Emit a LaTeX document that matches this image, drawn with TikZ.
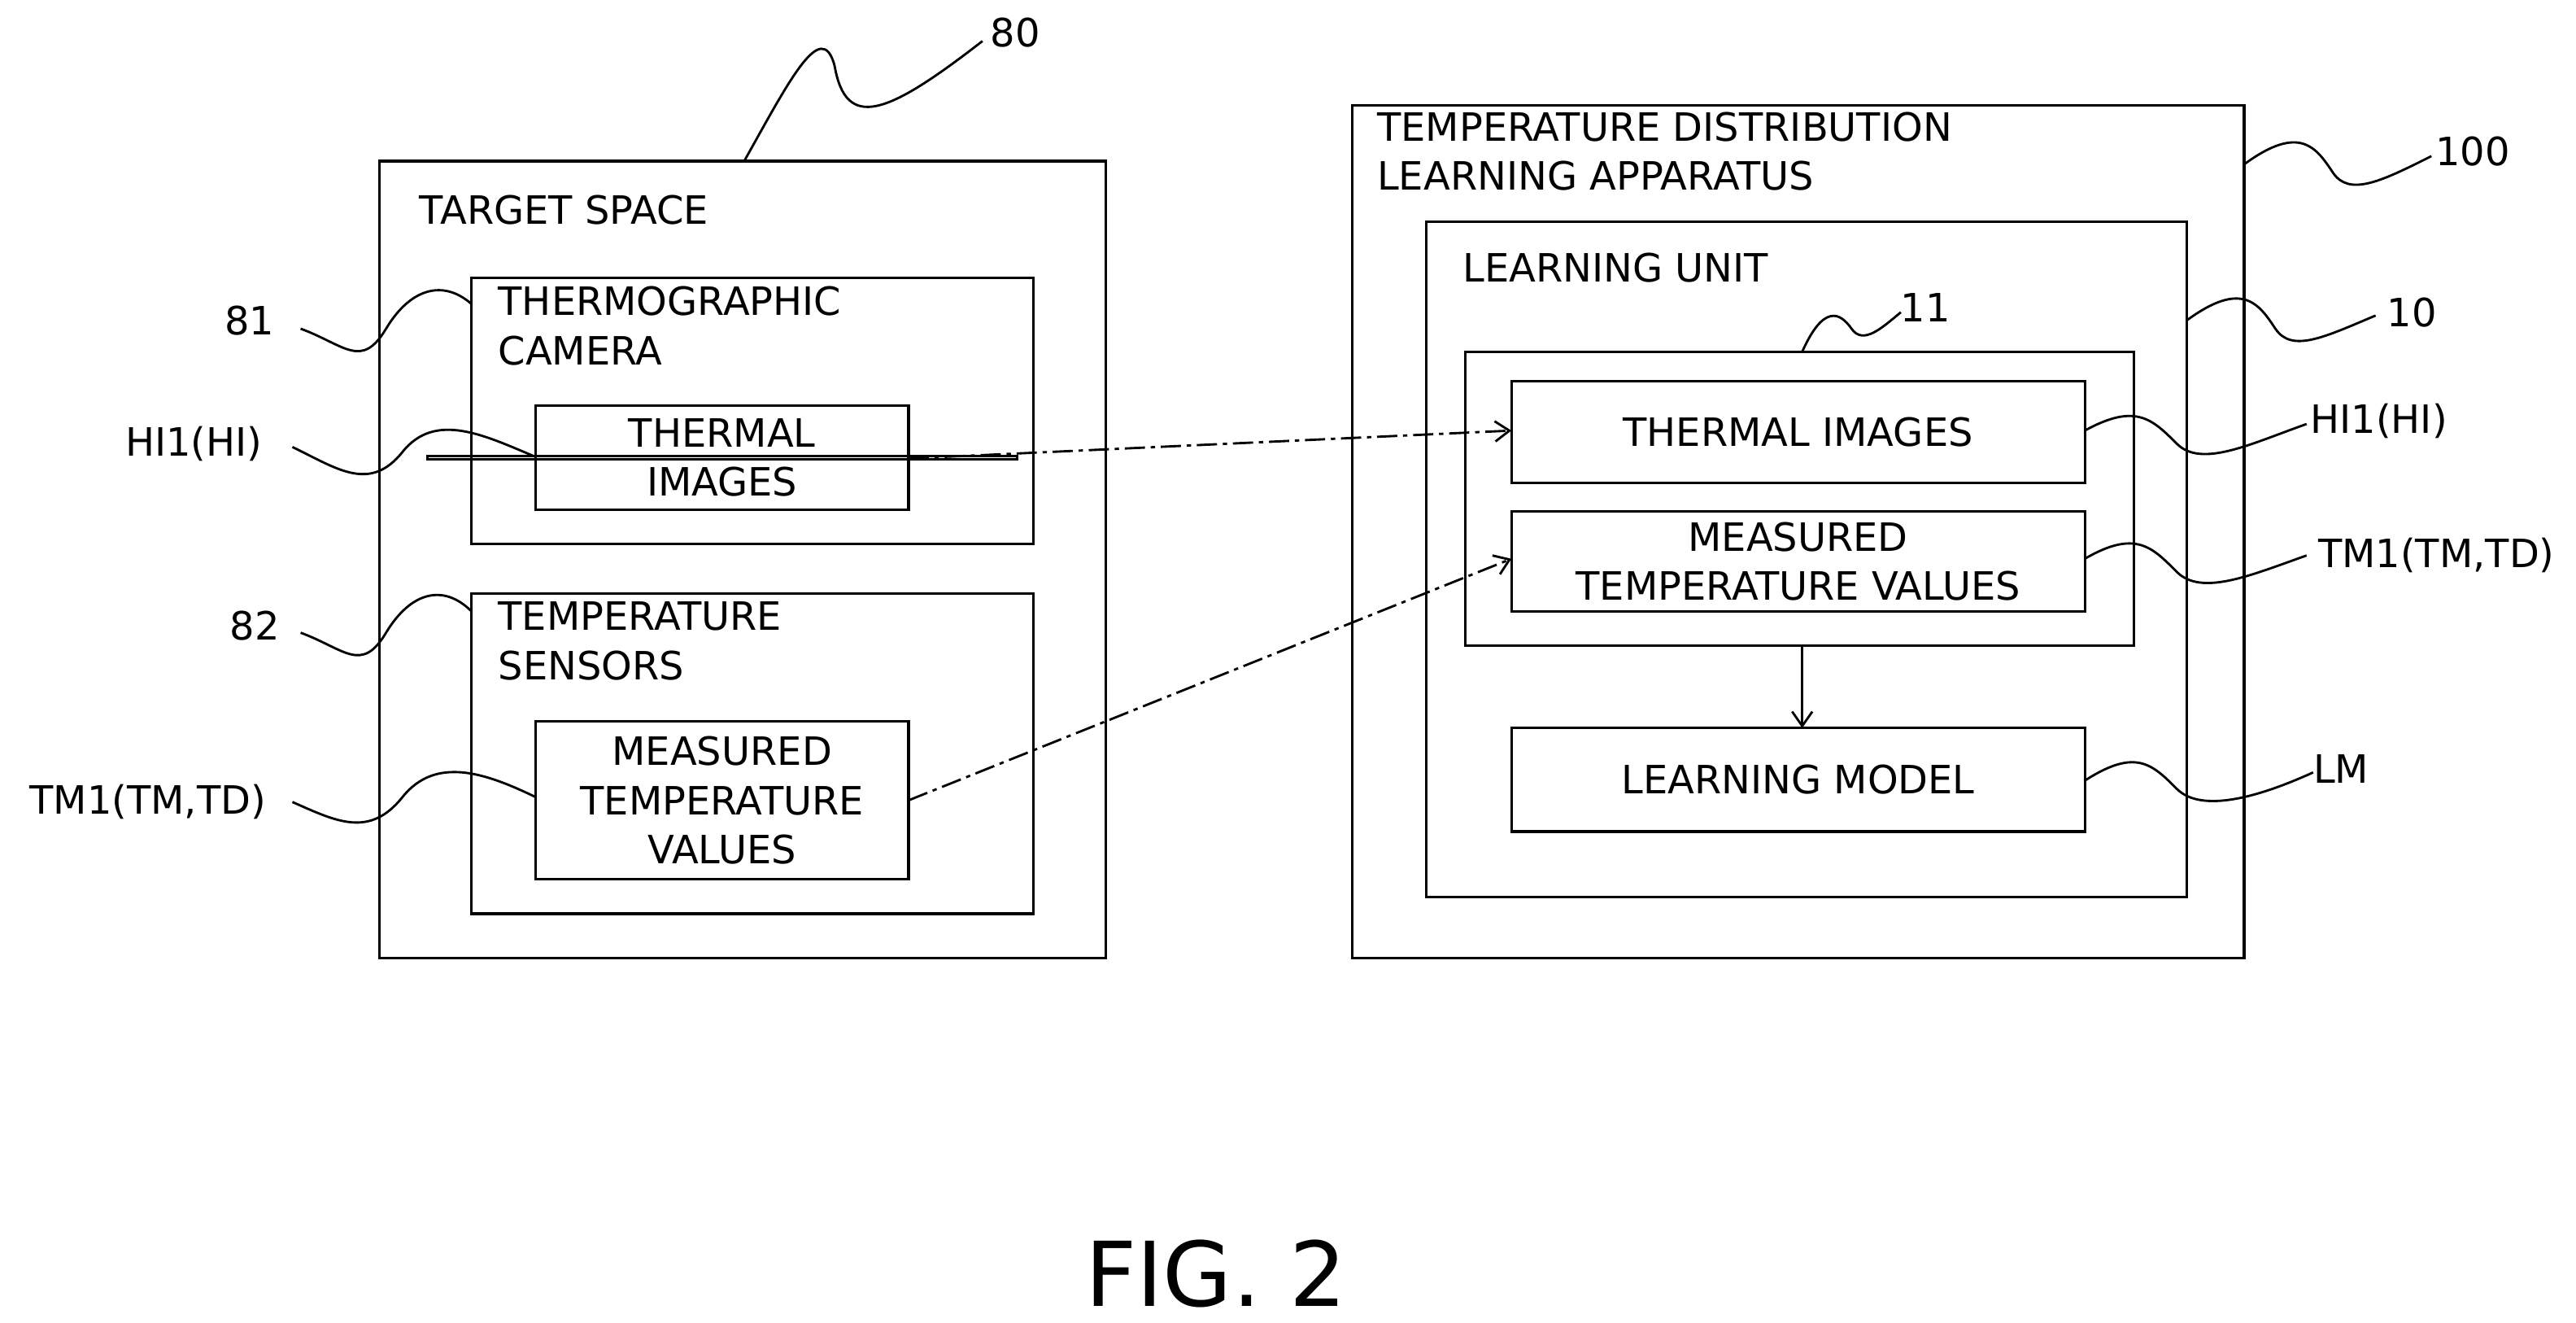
\documentclass[tikz,border=0pt]{standalone}
\usepackage{fontspec}
\setmainfont{DejaVu Sans}
\usetikzlibrary{arrows.meta}
\begin{document}
\begin{tikzpicture}[x=0.02cm,y=-0.02cm,
  box/.style={draw,line width=0.9pt},
  txt/.style={font=\fontsize{13.5}{17}\selectfont,align=center,inner sep=0},
  ttl/.style={font=\fontsize{13.5}{17}\selectfont,align=left,anchor=north west,inner sep=0},
  lead/.style={line width=0.8pt},
  flow/.style={line width=0.8pt,dash pattern=on 7pt off 2pt on 1.5pt off 2pt,-{Straight Barb[length=5pt,width=7pt]}}]
\useasboundingbox (0,0) rectangle (1568,805);
% left
\draw[box] (231,98) rectangle (673,583);
\node[ttl,anchor=west] (ts) at (255,128) {TARGET SPACE};
\draw[box] (287,169) rectangle (629,331);
\node[ttl] (tc) at (303,174) {THERMOGRAPHIC\\CAMERA};
\node[box,minimum width=227\pgflinewidth,txt] (ti) at (439.5,278.5) {};
\draw[box] (326,247) rectangle (553,310);
\node[txt] (tiL) at (439.5,278.5) {THERMAL\\IMAGES};
\draw[box] (287,361) rectangle (629,556);
\node[ttl] (tsn) at (303,366) {TEMPERATURE\\SENSORS};
\draw[box] (326,439) rectangle (553,535);
\node[txt] (mtL) at (439.5,487) {MEASURED\\TEMPERATURE\\VALUES};
% right
\draw[box] (823,64) rectangle (1366,583);
\node[ttl] (tda) at (838,68) {TEMPERATURE DISTRIBUTION\\LEARNING APPARATUS};
\draw[box] (868,135) rectangle (1331,546);
\node[ttl,anchor=west] (lu) at (890,163) {LEARNING UNIT};
\draw[box] (892,214) rectangle (1299,393);
\draw[box] (920,232) rectangle (1269,294);
\node[txt] (tiR) at (1094.5,263) {THERMAL IMAGES};
\draw[box] (920,311) rectangle (1269,372);
\node[txt] (mtR) at (1094.5,341.5) {MEASURED\\TEMPERATURE VALUES};
\draw[box] (920,443) rectangle (1269,506);
\node[txt] (lm) at (1094.5,474.5) {LEARNING MODEL};
\coordinate (b11) at (1097,393); \coordinate (tlm) at (1097,443);
\draw[line width=0.8pt,-{Straight Barb[length=5pt,width=7pt]}] (b11) -- (tlm);
% flows
\coordinate (s1) at (553,279); \coordinate (e1) at (920,262);
\coordinate (s2) at (553,487); \coordinate (e2) at (920,340);
\draw[flow] (s1) -- (e1);
\draw[flow] (s2) -- (e2);
% labels
\tikzset{lab/.style={font=\fontsize{13.5}{17}\selectfont,inner sep=0}}
\node[lab] (l80) at (618,20) {80};
\node[lab] (l100) at (1505,92) {100};
\node[lab] (l10) at (1468,190) {10};
\node[lab] (l11) at (1172,187) {11};
\node[lab] (l81) at (152,195) {81};
\node[lab] (l82) at (155,381) {82};
\node[lab] (lhl) at (118,270) {HI1(HI)};
\node[lab] (ltl) at (90,488) {TM1(TM,TD)};
\node[lab] (lhr) at (1448,256) {HI1(HI)};
\node[lab] (ltr) at (1483,338) {TM1(TM,TD)};
\node[lab] (llm) at (1425,468) {LM};
% leaders
\draw[lead] (453,98) .. controls (480,50) and (500,10) .. (508,40) .. controls (515,80) and (540,70) .. (598,25);
\draw[lead] (1366,100) .. controls (1400,75) and (1410,90) .. (1420,105) .. controls (1430,120) and (1450,110) .. (1480,95);
\draw[lead] (1331,195) .. controls (1365,170) and (1375,185) .. (1385,200) .. controls (1395,215) and (1415,205) .. (1446,192);
\draw[lead] (1097,214) .. controls (1110,185) and (1120,190) .. (1127,200) .. controls (1134,210) and (1145,200) .. (1157,190);
\draw[lead] (183,200) .. controls (210,210) and (220,225) .. (235,200) .. controls (250,175) and (270,170) .. (287,185);
\draw[lead] (183,385) .. controls (210,395) and (220,410) .. (235,385) .. controls (250,360) and (270,355) .. (287,372);
\draw[lead] (178,272) .. controls (205,285) and (225,300) .. (245,275) .. controls (265,250) and (295,265) .. (326,278);
\draw[lead] (178,488) .. controls (205,500) and (225,510) .. (245,485) .. controls (265,460) and (295,470) .. (326,485);
\draw[lead] (1269,262) .. controls (1300,245) and (1310,255) .. (1325,270) .. controls (1340,285) and (1370,270) .. (1404,258);
\draw[lead] (1269,340) .. controls (1300,322) and (1310,333) .. (1325,348) .. controls (1340,363) and (1370,350) .. (1404,338);
\draw[lead] (1269,475) .. controls (1300,455) and (1310,465) .. (1325,480) .. controls (1340,495) and (1375,485) .. (1408,470);
\node[font=\fontsize{31}{36}\selectfont,inner sep=0] (fig) at (740,775) {FIG. 2};
\end{tikzpicture}
\end{document}
